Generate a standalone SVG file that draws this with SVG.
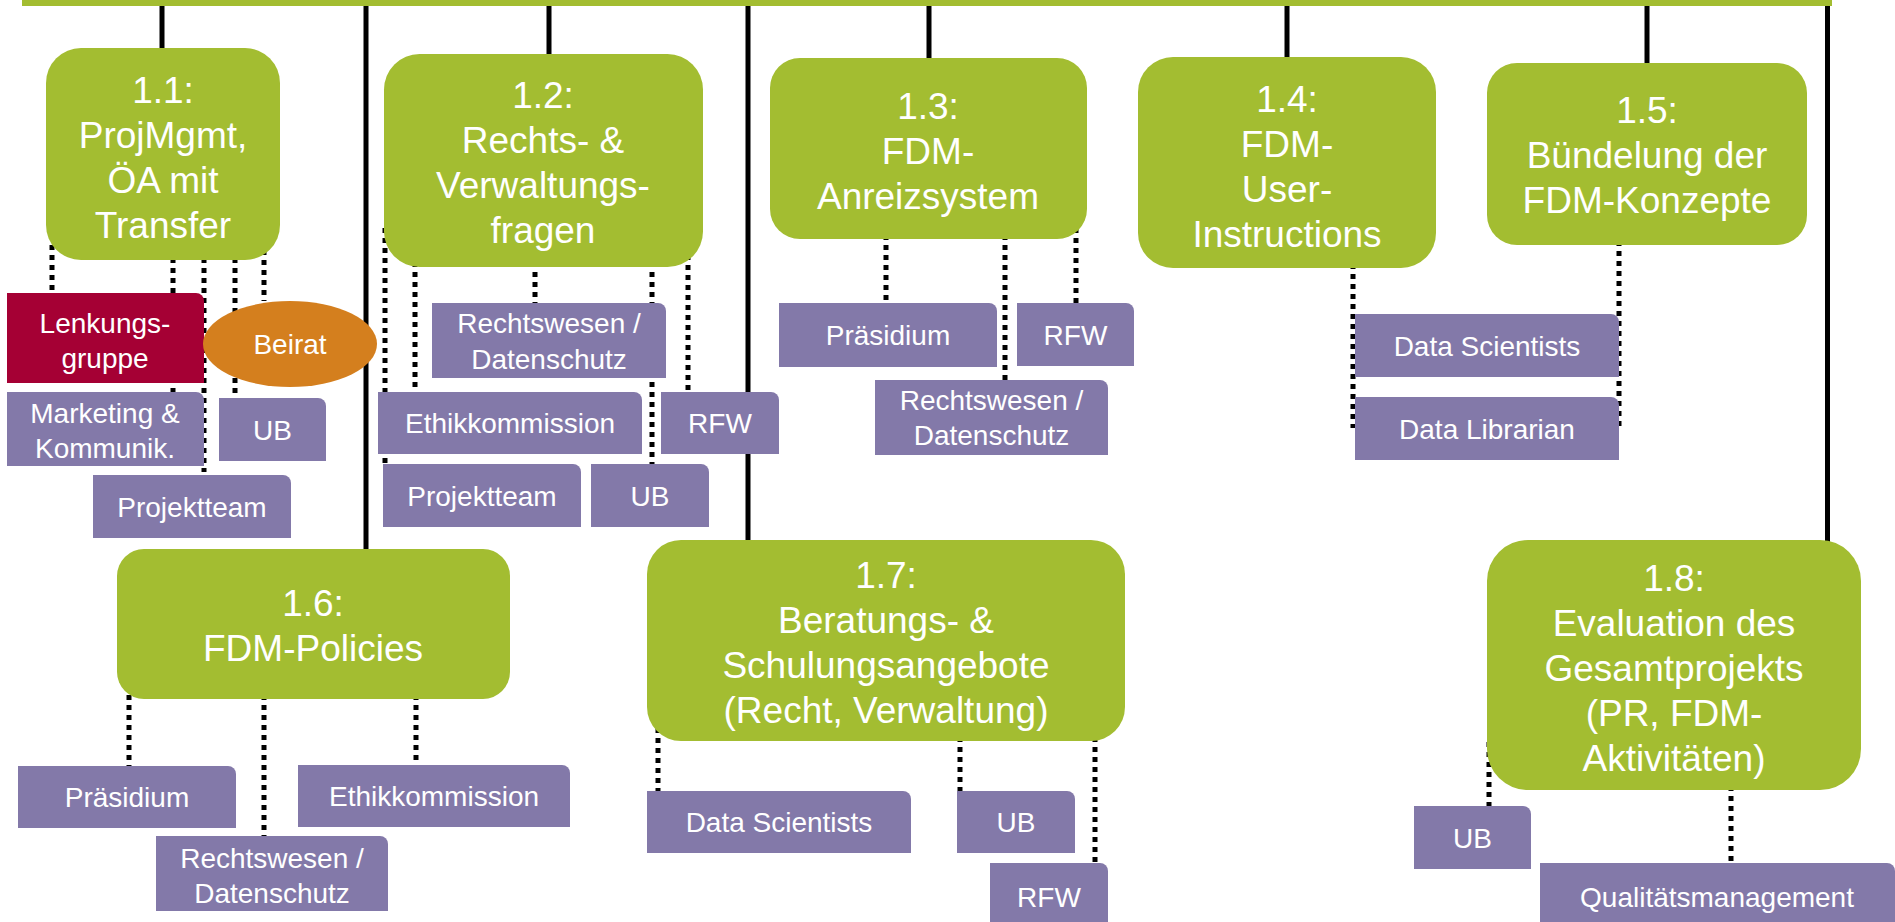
<svg xmlns="http://www.w3.org/2000/svg" width="1895" height="922" viewBox="0 0 1895 922">
<style>
.g{fill:#a3bd31}
.p{fill:#8379a9}
.t{font-family:"Liberation Sans",Arial,sans-serif;fill:#fff;text-anchor:middle}
.gt{font-size:37px}
.pt{font-size:28px}
.solid{stroke:#000;stroke-width:5;fill:none}
.dot{stroke:#000;stroke-width:5;stroke-dasharray:5 5;fill:none}
</style>
<rect width="1895" height="922" fill="#fff"/>
<g id="connectors">
<rect x="22" y="0" width="1810" height="6" class="g"/>
<path class="solid" d="M162 6V50M366 6V551M549 6V56M748 6V542M929 6V60M1287 6V59M1647 6V65M1827.5 6V542"/>
<path class="dot" d="M52 245V293M173 258V392M204 258V472M235 258V398M264 250V301"/>
<path class="dot" d="M385 228V464M415 262V392M535 262V303M652 262V464M688 255V392"/>
<path class="dot" d="M886 235V303M1005 235V380M1076 228V303"/>
<path class="dot" d="M1353 264V428M1619 241V428"/>
<path class="dot" d="M129 695V766M264 695V836M416 695V765"/>
<path class="dot" d="M658 728V791M960 737V791M1095 737V863"/>
<path class="dot" d="M1489 742V806M1731 786V863"/>
</g>
<g id="n1-1"><rect x="46" y="48" width="234" height="212" rx="35" class="g"/>
<text class="t gt" x="163" y="102.5"><tspan x="163">1.1:</tspan><tspan x="163" dy="45">ProjMgmt,</tspan><tspan x="163" dy="45">ÖA mit</tspan><tspan x="163" dy="45">Transfer</tspan></text></g>
<g id="n1-2"><rect x="384" y="54" width="319" height="213" rx="35.5" class="g"/>
<text class="t gt" x="543" y="107.5"><tspan x="543">1.2:</tspan><tspan x="543" dy="45">Rechts- &amp;</tspan><tspan x="543" dy="45">Verwaltungs-</tspan><tspan x="543" dy="45">fragen</tspan></text></g>
<g id="n1-3"><rect x="770" y="58" width="317" height="181" rx="30" class="g"/>
<text class="t gt" x="928" y="119"><tspan x="928">1.3:</tspan><tspan x="928" dy="45">FDM-</tspan><tspan x="928" dy="45">Anreizsystem</tspan></text></g>
<g id="n1-4"><rect x="1138" y="57" width="298" height="211" rx="35" class="g"/>
<text class="t gt" x="1287" y="111.5"><tspan x="1287">1.4:</tspan><tspan x="1287" dy="45">FDM-</tspan><tspan x="1287" dy="45">User-</tspan><tspan x="1287" dy="45">Instructions</tspan></text></g>
<g id="n1-5"><rect x="1487" y="63" width="320" height="182" rx="30" class="g"/>
<text class="t gt" x="1647" y="123"><tspan x="1647">1.5:</tspan><tspan x="1647" dy="45">Bündelung der</tspan><tspan x="1647" dy="45">FDM-Konzepte</tspan></text></g>
<g id="n1-6"><rect x="117" y="549" width="393" height="150" rx="27" class="g"/>
<text class="t gt" x="313" y="616"><tspan x="313">1.6:</tspan><tspan x="313" dy="45">FDM-Policies</tspan></text></g>
<g id="n1-7"><rect x="647" y="540" width="478" height="201" rx="34" class="g"/>
<text class="t gt" x="886" y="587.5"><tspan x="886">1.7:</tspan><tspan x="886" dy="45">Beratungs- &amp;</tspan><tspan x="886" dy="45">Schulungsangebote</tspan><tspan x="886" dy="45">(Recht, Verwaltung)</tspan></text></g>
<g id="n1-8"><rect x="1487" y="540" width="374" height="250" rx="41" class="g"/>
<text class="t gt" x="1674" y="591"><tspan x="1674">1.8:</tspan><tspan x="1674" dy="45">Evaluation des</tspan><tspan x="1674" dy="45">Gesamtprojekts</tspan><tspan x="1674" dy="45">(PR, FDM-</tspan><tspan x="1674" dy="45">Aktivitäten)</tspan></text></g>
<g id="lenkungsgruppe"><path d="M7 293H196A8 8 0 0 1 204 301V383H7Z" fill="#a50034"/>
<text class="t pt" x="105" y="333"><tspan x="105">Lenkungs-</tspan><tspan x="105" dy="35">gruppe</tspan></text></g>
<g id="beirat"><ellipse cx="290" cy="344" rx="87" ry="43" fill="#d47f1e"/>
<text class="t pt" x="290" y="354">Beirat</text></g>
<g id="marketing"><path class="p" d="M7 392H196A8 8 0 0 1 204 400V466H7Z"/>
<text class="t pt" x="105" y="423"><tspan x="105">Marketing &amp;</tspan><tspan x="105" dy="35">Kommunik.</tspan></text></g>
<g id="ub-1"><path class="p" d="M219 398H318A8 8 0 0 1 326 406V461H219Z"/>
<text class="t pt" x="272.5" y="439.5">UB</text></g>
<g id="projektteam-1"><path class="p" d="M93 475H283A8 8 0 0 1 291 483V538H93Z"/>
<text class="t pt" x="192" y="516.5">Projektteam</text></g>
<g id="rechtswesen-1"><path class="p" d="M432 303H658A8 8 0 0 1 666 311V378H432Z"/>
<text class="t pt" x="549" y="333"><tspan x="549">Rechtswesen /</tspan><tspan x="549" dy="36">Datenschutz</tspan></text></g>
<g id="ethik-1"><path class="p" d="M378 392H634A8 8 0 0 1 642 400V454H378Z"/>
<text class="t pt" x="510" y="433">Ethikkommission</text></g>
<g id="rfw-1"><path class="p" d="M661 392H771A8 8 0 0 1 779 400V454H661Z"/>
<text class="t pt" x="720" y="433">RFW</text></g>
<g id="projektteam-2"><path class="p" d="M383 464H573A8 8 0 0 1 581 472V527H383Z"/>
<text class="t pt" x="482" y="505.5">Projektteam</text></g>
<g id="ub-2"><path class="p" d="M591 464H701A8 8 0 0 1 709 472V527H591Z"/>
<text class="t pt" x="650" y="505.5">UB</text></g>
<g id="praesidium-1"><path class="p" d="M779 303H989A8 8 0 0 1 997 311V367H779Z"/>
<text class="t pt" x="888" y="345">Präsidium</text></g>
<g id="rfw-2"><path class="p" d="M1017 303H1126A8 8 0 0 1 1134 311V366H1017Z"/>
<text class="t pt" x="1075.5" y="344.5">RFW</text></g>
<g id="rechtswesen-2"><path class="p" d="M875 380H1100A8 8 0 0 1 1108 388V455H875Z"/>
<text class="t pt" x="991.5" y="410"><tspan x="991.5">Rechtswesen /</tspan><tspan x="991.5" dy="35">Datenschutz</tspan></text></g>
<g id="datasci-1"><path class="p" d="M1355 314H1611A8 8 0 0 1 1619 322V377H1355Z"/>
<text class="t pt" x="1487" y="355.5">Data Scientists</text></g>
<g id="datalib"><path class="p" d="M1355 397H1611A8 8 0 0 1 1619 405V460H1355Z"/>
<text class="t pt" x="1487" y="438.5">Data Librarian</text></g>
<g id="praesidium-2"><path class="p" d="M18 766H228A8 8 0 0 1 236 774V828H18Z"/>
<text class="t pt" x="127" y="807">Präsidium</text></g>
<g id="ethik-2"><path class="p" d="M298 765H562A8 8 0 0 1 570 773V827H298Z"/>
<text class="t pt" x="434" y="806">Ethikkommission</text></g>
<g id="rechtswesen-3"><path class="p" d="M156 836H380A8 8 0 0 1 388 844V911H156Z"/>
<text class="t pt" x="272" y="868"><tspan x="272">Rechtswesen /</tspan><tspan x="272" dy="35">Datenschutz</tspan></text></g>
<g id="datasci-2"><path class="p" d="M647 791H903A8 8 0 0 1 911 799V853H647Z"/>
<text class="t pt" x="779" y="832">Data Scientists</text></g>
<g id="ub-3"><path class="p" d="M957 791H1067A8 8 0 0 1 1075 799V853H957Z"/>
<text class="t pt" x="1016" y="832">UB</text></g>
<g id="rfw-3"><path class="p" d="M990 863H1100A8 8 0 0 1 1108 871V930H990Z"/>
<text class="t pt" x="1049" y="907">RFW</text></g>
<g id="ub-4"><path class="p" d="M1414 806H1523A8 8 0 0 1 1531 814V869H1414Z"/>
<text class="t pt" x="1472.5" y="847.5">UB</text></g>
<g id="qm"><path class="p" d="M1540 863H1887A8 8 0 0 1 1895 871V930H1540Z"/>
<text class="t pt" x="1717" y="907">Qualitätsmanagement</text></g>
</svg>
